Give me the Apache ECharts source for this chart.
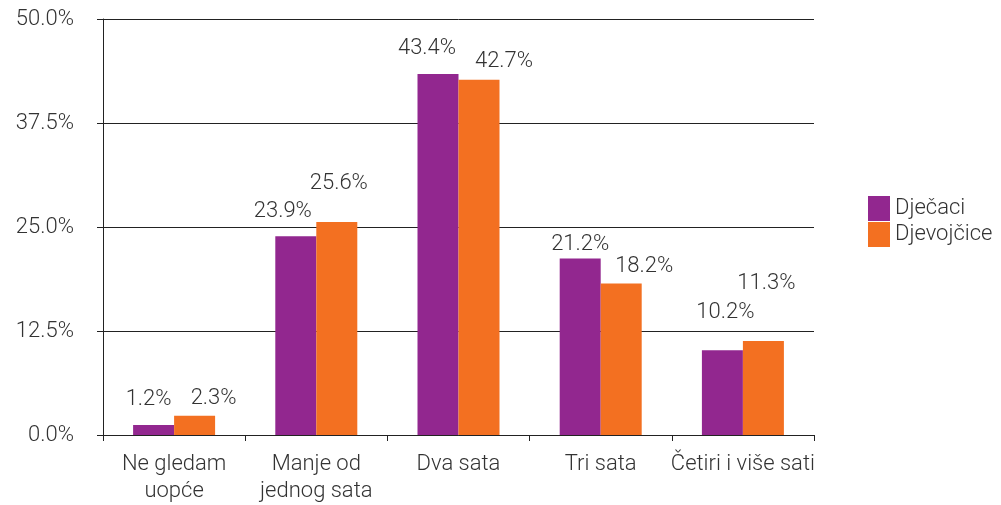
<!DOCTYPE html>
<html>
<head>
<meta charset="utf-8">
<script src="https://cdn.jsdelivr.net/npm/echarts@6/dist/echarts.min.js"></script>
<style>
  html, body { margin: 0; padding: 0; background: #fff; }
</style>
</head>
<body>
<div id="main" style="width:1001px;height:505px;"></div>
<script>
// podaci
const categories = ['Ne gledam\nuopće', 'Manje od\njednog sata', 'Dva sata', 'Tri sata', 'Četiri i više sati'];
const djecaci = [1.2, 23.9, 43.4, 21.2, 10.2];
const djevojcice = [2.3, 25.6, 42.7, 18.2, 11.3];
const yTicks = [0, 12.5, 25, 37.5, 50];

// pomaci oznaka (kao u originalu)
const offDjecaci = [[-5, -10], [-13, -9], [-11, -9], [0, 2], [3, -22]];
const offDjevojcice = [[19, -1], [2, -23], [25, -2], [23, -1], [3, -41]];

const font = 'Roboto';
const txt = '#333';
const fs = 22;

function withLabels(values, offsets) {
  return values.map((v, i) => ({
    value: v,
    label: { offset: offsets[i] }
  }));
}

const mychart = echarts.init(document.getElementById('main'));
const option = {
  animation: false,
  textStyle: { fontFamily: font, fontWeight: 300 },
  grid: { left: 103, right: 187, top: 19, bottom: 68 },
  legend: {
    orient: 'vertical',
    left: 863,
    top: 191,
    itemWidth: 22,
    itemHeight: 25,
    itemGap: 1,
    icon: 'rect',
    textStyle: { fontSize: fs, color: txt, fontFamily: font, fontWeight: 300, padding: [0, 0, 0, 0] },
    data: ['Dječaci', 'Djevojčice']
  },
  xAxis: {
    type: 'category',
    data: categories,
    axisLine: { lineStyle: { color: '#222', width: 1 } },
    axisTick: { show: true, length: 6, interval: 0, lineStyle: { color: '#222' } },
    axisLabel: {
      interval: 0, margin: 16, fontSize: fs, color: txt,
      fontFamily: font, fontWeight: 300, lineHeight: 27
    }
  },
  yAxis: {
    type: 'value',
    min: yTicks[0],
    max: yTicks[yTicks.length - 1],
    interval: 12.5,
    axisLine: { show: true, lineStyle: { color: '#222', width: 1 } },
    axisTick: { show: true, length: 6, lineStyle: { color: '#222' } },
    splitLine: { lineStyle: { color: '#222', width: 1 } },
    axisLabel: {
      margin: 29, fontSize: fs, color: txt, fontFamily: font, fontWeight: 300,
      formatter: v => v.toFixed(1) + '%'
    }
  },
  series: [
    {
      name: 'Dječaci',
      type: 'bar',
      data: withLabels(djecaci, offDjecaci),
      barWidth: 41,
      barGap: '0%',
      itemStyle: { color: '#92278F' },
      label: {
        show: true, position: 'top', distance: 5, fontSize: fs, color: txt,
        fontFamily: font, fontWeight: 300,
        formatter: p => p.value.toFixed(1) + '%'
      }
    },
    {
      name: 'Djevojčice',
      type: 'bar',
      data: withLabels(djevojcice, offDjevojcice),
      barWidth: 41,
      barGap: '0%',
      itemStyle: { color: '#F37021' },
      label: {
        show: true, position: 'top', distance: 5, fontSize: fs, color: txt,
        fontFamily: font, fontWeight: 300,
        formatter: p => p.value.toFixed(1) + '%'
      }
    }
  ]
};
mychart.setOption(option);
</script>
</body>
</html>
